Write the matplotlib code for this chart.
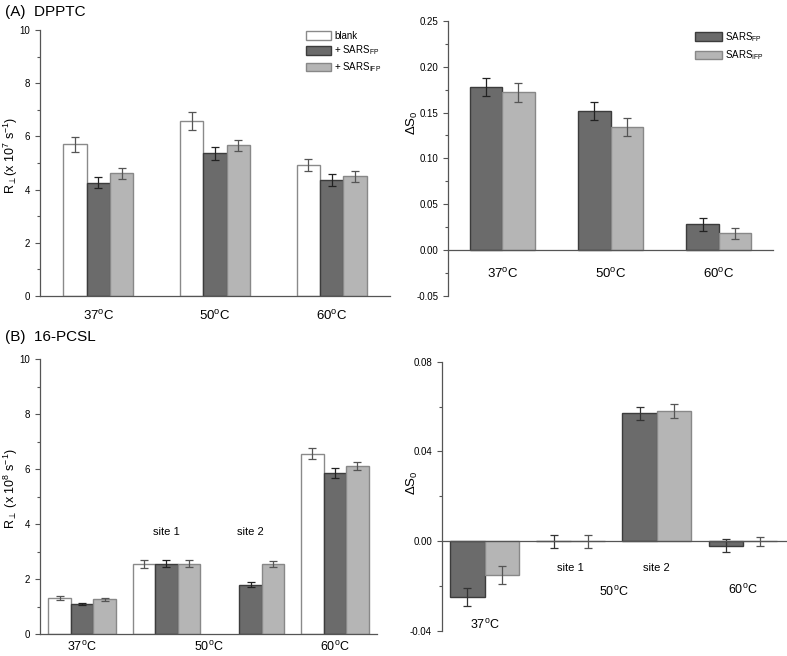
import matplotlib.pyplot as plt
import numpy as np

plt.rcParams['font.family'] = ['Liberation Sans', 'DejaVu Sans']
plt.rcParams['mathtext.fontset'] = 'custom'
plt.rcParams['mathtext.rm'] = 'Liberation Sans'
plt.rcParams['mathtext.it'] = 'Liberation Sans'

# (A) DPPTC - rotational rate
temps_a = ['37$^{\\rm o}$C', '50$^{\\rm o}$C', '60$^{\\rm o}$C']
blank_a = [5.71, 6.57, 4.91]
blank_a_err = [0.28, 0.33, 0.23]
fp_a = [4.26, 5.36, 4.37]
fp_a_err = [0.20, 0.25, 0.22]
ifp_a = [4.61, 5.66, 4.50]
ifp_a_err = [0.22, 0.22, 0.20]

# (A) DPPTC - delta S0
ds_fp_a = [0.178, 0.152, 0.028]
ds_fp_a_err = [0.010, 0.010, 0.007]
ds_ifp_a = [0.172, 0.134, 0.018]
ds_ifp_a_err = [0.010, 0.010, 0.006]

# (B) 16-PCSL - rotational rate (37, 50 site 1, 50 site 2, 60)
blank_b = [1.32, 2.55, np.nan, 6.55]
blank_b_err = [0.07, 0.14, np.nan, 0.20]
fp_b = [1.09, 2.55, 1.80, 5.84]
fp_b_err = [0.05, 0.13, 0.10, 0.18]
ifp_b = [1.26, 2.55, 2.55, 6.11]
ifp_b_err = [0.06, 0.13, 0.12, 0.16]

# (B) 16-PCSL - delta S0
ds_fp_b = [-0.025, 0.0, 0.057, -0.002]
ds_fp_b_err = [0.004, 0.003, 0.003, 0.003]
ds_ifp_b = [-0.015, 0.0, 0.058, 0.0]
ds_ifp_b_err = [0.004, 0.003, 0.003, 0.002]

white = 'white'
dark = '#6b6b6b'
light = '#b5b5b5'
ek = dict(capsize=3, elinewidth=0.9, capthick=0.9)

fig = plt.figure(figsize=(7.87, 6.56), dpi=100)


def style(ax):
    for s in ['top', 'right']:
        ax.spines[s].set_visible(False)
    for s in ['left', 'bottom']:
        ax.spines[s].set_color('#555555')
        ax.spines[s].set_linewidth(0.9)
    ax.tick_params(axis='y', direction='out', length=3.5, width=0.8,
                   color='#555555', labelsize=7, which='major')
    ax.tick_params(axis='y', which='minor', length=2, width=0.8, color='#555555')
    ax.tick_params(axis='x', length=0, labelsize=9.5, pad=9)
    ax.yaxis.label.set_va('center')


# ---- A left
ax1 = fig.add_axes([0.0508, 0.5488, 0.4448, 0.4055])
x = np.arange(1, 4)
w = 0.2
ax1.bar(x - w, blank_a, w, color=white, edgecolor='#8a8a8a', linewidth=1, label='blank')
ax1.bar(x, fp_a, w, color=dark, edgecolor='#3c3c3c', linewidth=1, label='+ SARS$_{\\rm FP}$')
ax1.bar(x + w, ifp_a, w, color=light, edgecolor='#888888', linewidth=1, label='+ SARS$_{\\rm IFP}$')
ax1.errorbar(x - w, blank_a, yerr=blank_a_err, fmt='none', ecolor='#555555', **ek)
ax1.errorbar(x, fp_a, yerr=fp_a_err, fmt='none', ecolor='#222222', **ek)
ax1.errorbar(x + w, ifp_a, yerr=ifp_a_err, fmt='none', ecolor='#555555', **ek)
ax1.set_xlim(0.5, 3.5)
ax1.set_ylim(0, 10)
ax1.set_yticks([0, 2, 4, 6, 8, 10])
ax1.set_yticks([1, 3, 5, 7, 9], minor=True)
ax1.set_xticks(x)
ax1.set_xticklabels(temps_a)
ax1.set_ylabel('R$_{\\perp}$(x 10$^{7}$ s$^{-1}$)', fontsize=9)
style(ax1)
ax1.yaxis.set_label_coords(-0.084, 0.53)
ax1.legend(loc='upper right', bbox_to_anchor=(1.0, 1.03), frameon=False, fontsize=7,
           handlelength=2.6, handleheight=1.0, labelspacing=0.3, handletextpad=0.3)

# ---- A right
ax2 = fig.add_axes([0.5693, 0.5492, 0.4129, 0.4188])
w = 0.3
ax2.bar(x - w / 2, ds_fp_a, w, color=dark, edgecolor='#3c3c3c', linewidth=1, label='SARS$_{\\rm FP}$')
ax2.bar(x + w / 2, ds_ifp_a, w, color=light, edgecolor='#888888', linewidth=1, label='SARS$_{\\rm IFP}$')
ax2.errorbar(x - w / 2, ds_fp_a, yerr=ds_fp_a_err, fmt='none', ecolor='#222222', **ek)
ax2.errorbar(x + w / 2, ds_ifp_a, yerr=ds_ifp_a_err, fmt='none', ecolor='#555555', **ek)
ax2.set_xlim(0.5, 3.5)
ax2.set_ylim(-0.05, 0.25)
ax2.set_yticks([-0.05, 0.0, 0.05, 0.10, 0.15, 0.20, 0.25])
ax2.set_yticks([-0.025, 0.025, 0.075, 0.125, 0.175, 0.225], minor=True)
ax2.set_yticklabels(['-0.05', '0.00', '0.05', '0.10', '0.15', '0.20', '0.25'])
ax2.set_xticks(x)
ax2.set_xticklabels(temps_a)
ax2.set_ylabel('$\\Delta$S$_{0}$', fontsize=9.5)
style(ax2)
ax2.yaxis.set_label_coords(-0.108, 0.63)
ax2.spines['bottom'].set_position(('data', 0))
ax2.tick_params(axis='x', pad=12)
ax2.legend(loc='upper right', bbox_to_anchor=(1.0, 1.0), frameon=False, fontsize=7,
           handlelength=2.8, handleheight=1.0, labelspacing=0.5, handletextpad=0.3)

# ---- B left
ax3 = fig.add_axes([0.0508, 0.0335, 0.4282, 0.4192])
xb = np.arange(1, 5)
w = 0.267
ax3.bar(xb - w, blank_b, w, color=white, edgecolor='#8a8a8a', linewidth=1)
ax3.bar(xb, fp_b, w, color=dark, edgecolor='#3c3c3c', linewidth=1)
ax3.bar(xb + w, ifp_b, w, color=light, edgecolor='#888888', linewidth=1)
ax3.errorbar(xb - w, blank_b, yerr=blank_b_err, fmt='none', ecolor='#555555', **ek)
ax3.errorbar(xb, fp_b, yerr=fp_b_err, fmt='none', ecolor='#222222', **ek)
ax3.errorbar(xb + w, ifp_b, yerr=ifp_b_err, fmt='none', ecolor='#555555', **ek)
ax3.set_xlim(0.5, 4.5)
ax3.set_ylim(0, 10)
ax3.set_yticks([0, 2, 4, 6, 8, 10])
ax3.set_yticks([1, 3, 5, 7, 9], minor=True)
ax3.set_xticks([1, 2.5, 4])
ax3.set_xticklabels(temps_a)
ax3.set_ylabel('R$_{\\perp}$ (x 10$^{8}$ s$^{-1}$)', fontsize=9)
style(ax3)
ax3.yaxis.set_label_coords(-0.087, 0.53)
ax3.tick_params(axis='x', pad=4, labelsize=9)
ax3.text(2, 3.7, 'site 1', ha='center', va='center', fontsize=8)
ax3.text(3, 3.7, 'site 2', ha='center', va='center', fontsize=8)

# ---- B right
ax4 = fig.add_axes([0.5612, 0.0381, 0.4375, 0.4105])
w = 0.4
ax4.bar(xb - w / 2, ds_fp_b, w, color=dark, edgecolor='#3c3c3c', linewidth=1)
ax4.bar(xb + w / 2, ds_ifp_b, w, color=light, edgecolor='#888888', linewidth=1)
ax4.errorbar(xb - w / 2, ds_fp_b, yerr=ds_fp_b_err, fmt='none', ecolor='#333333', **ek)
ax4.errorbar(xb + w / 2, ds_ifp_b, yerr=ds_ifp_b_err, fmt='none', ecolor='#555555', **ek)
ax4.set_xlim(0.5, 4.5)
ax4.set_ylim(-0.04, 0.08)
ax4.set_yticks([-0.04, 0.0, 0.04, 0.08])
ax4.set_yticklabels(['-0.04', '0.00', '0.04', '0.08'])
ax4.set_yticks([-0.02, 0.02, 0.06], minor=True)
ax4.set_xticks([])
ax4.set_ylabel('$\\Delta$S$_{0}$', fontsize=9.5)
style(ax4)
ax4.yaxis.set_label_coords(-0.085, 0.55)
ax4.spines['bottom'].set_position(('data', 0))
ax4.text(2, -0.012, 'site 1', ha='center', va='center', fontsize=8)
ax4.text(3, -0.012, 'site 2', ha='center', va='center', fontsize=8)
ax4.text(1, -0.0373, '37$^{\\rm o}$C', ha='center', va='center', fontsize=9)
ax4.text(2.5, -0.0225, '50$^{\\rm o}$C', ha='center', va='center', fontsize=9)
ax4.text(4, -0.0218, '60$^{\\rm o}$C', ha='center', va='center', fontsize=9)

fig.text(0.006, 0.982, '(A)  DPPTC', fontsize=11, va='center')
fig.text(0.006, 0.486, '(B)  16-PCSL', fontsize=11, va='center')

fig.savefig('out.png', dpi=100)
